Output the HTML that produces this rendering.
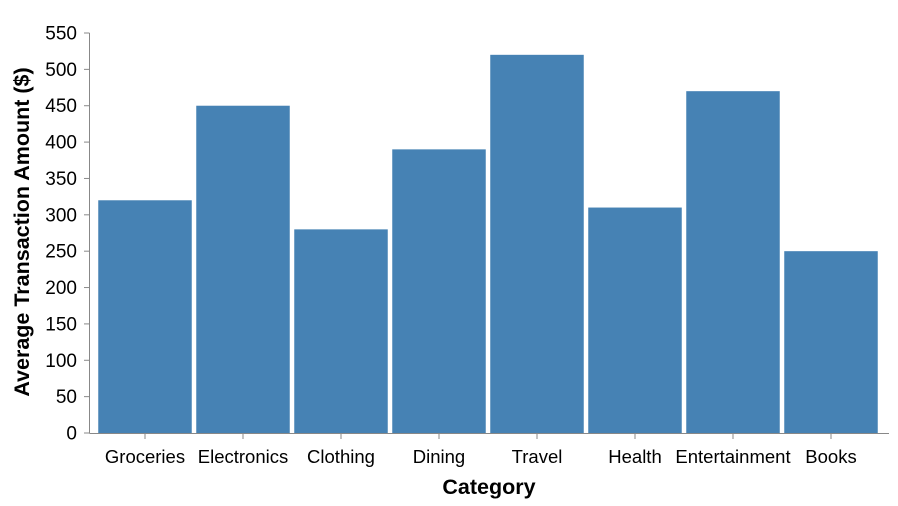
<!DOCTYPE html>
<html><head><meta charset="utf-8"><style>
body{margin:0;background:#fff;}
svg{display:block;font-family:"Liberation Sans",Arial,sans-serif;}
</style></head><body>
<svg id="chart" width="898" height="506" viewBox="0 0 898 506">
<g id="bars"></g>
<g id="axes"></g>
<text transform="translate(29,232) rotate(-90)" text-anchor="middle" font-size="21.5" font-weight="bold" fill="#000">Average Transaction Amount ($)</text>
<text x="489" y="494" text-anchor="middle" font-size="21.5" font-weight="bold" fill="#000">Category</text>
</svg>
<script>
const categories = ["Groceries","Electronics","Clothing","Dining","Travel","Health","Entertainment","Books"];
const values = [320,450,280,390,520,310,470,250];
const yTicks = [0,50,100,150,200,250,300,350,400,450,500,550];

const NS="http://www.w3.org/2000/svg";
const y0=433, yTop=33, yMax=550;
function yScale(v){return y0-(v/yMax)*(y0-yTop);}
const step=98, firstCenter=145, barW=93.5;
function xCenter(i){return firstCenter+i*step;}
function mk(tag,attrs,parent){const e=document.createElementNS(NS,tag);for(const k in attrs)e.setAttribute(k,attrs[k]);parent.appendChild(e);return e;}

const bars=document.getElementById('bars');
values.forEach((v,i)=>{
  const r=mk('rect',{x:xCenter(i)-barW/2,y:yScale(v),width:barW,height:y0-yScale(v),fill:'#4682b4'},bars);
  
  
});

const axes=document.getElementById('axes');
const ya=mk('line',{x1:89.5,y1:yTop,x2:89.5,y2:y0,stroke:'#888','stroke-width':1},axes);


yTicks.forEach(t=>{
  const y=yScale(t);
  const tk=mk('line',{x1:84,y1:y,x2:89.5,y2:y,stroke:'#888'},axes);
  
  
  const tx=mk('text',{x:77,y:y+6.5,'text-anchor':'end','font-size':19,fill:'#000'},axes);
  tx.textContent=t;
  
  
});
const xa=mk('line',{x1:89.5,y1:y0+0.5,x2:889,y2:y0+0.5,stroke:'#888','stroke-width':1},axes);


categories.forEach((c,i)=>{
  const x=xCenter(i);
  const tk=mk('line',{x1:x,y1:y0,x2:x,y2:y0+6,stroke:'#888'},axes);
  
  
  const tx=mk('text',{x:x,y:463,'text-anchor':'middle','font-size':18.5,fill:'#000'},axes);
  tx.textContent=c;
  
  
});
</script>
</body></html>
